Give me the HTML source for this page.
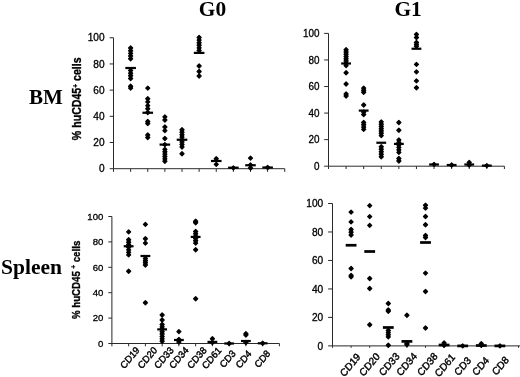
<!DOCTYPE html>
<html><head><meta charset="utf-8"><title>Figure</title>
<style>
html,body{margin:0;padding:0;background:#fff;}
body{width:520px;height:377px;overflow:hidden;font-family:"Liberation Sans",sans-serif;}
svg{display:block;will-change:transform;}
.s{font-family:"Liberation Sans",sans-serif;fill:#000;stroke:#000;stroke-width:0.3;}
.xl{stroke-width:0.45;}
.b{font-family:"Liberation Serif",serif;font-weight:bold;fill:#000;}
</style></head><body>
<svg width="520" height="377" viewBox="0 0 520 377">
<defs><filter id="soft" x="0" y="0" width="520" height="377" filterUnits="userSpaceOnUse"><feGaussianBlur stdDeviation="0.38"/></filter></defs>
<rect width="520" height="377" fill="#fff"/>
<g filter="url(#soft)">
<g stroke="#2a2a2a" stroke-width="1" fill="none">
<path d="M113.5 37.75V168.7"/>
<path d="M109.7 168.7H284.75"/>
<path d="M109.7 37.75H113.5"/>
<path d="M109.7 63.94H113.5"/>
<path d="M109.7 90.13H113.5"/>
<path d="M109.7 116.32H113.5"/>
<path d="M109.7 142.51H113.5"/>
<path d="M113.5 168.7V171.9"/>
<path d="M130.62 168.7V171.9"/>
<path d="M147.75 168.7V171.9"/>
<path d="M164.88 168.7V171.9"/>
<path d="M182 168.7V171.9"/>
<path d="M199.12 168.7V171.9"/>
<path d="M216.25 168.7V171.9"/>
<path d="M233.38 168.7V171.9"/>
<path d="M250.5 168.7V171.9"/>
<path d="M267.62 168.7V171.9"/>
<path d="M284.75 168.7V171.9"/>
</g>
<text transform="translate(104.6 41.37) scale(1.0 1)" text-anchor="end" font-size="10.1" class="s">100</text>
<text transform="translate(104.6 67.56) scale(1.0 1)" text-anchor="end" font-size="10.1" class="s">80</text>
<text transform="translate(104.6 93.75) scale(1.0 1)" text-anchor="end" font-size="10.1" class="s">60</text>
<text transform="translate(104.6 119.94) scale(1.0 1)" text-anchor="end" font-size="10.1" class="s">40</text>
<text transform="translate(104.6 146.13) scale(1.0 1)" text-anchor="end" font-size="10.1" class="s">20</text>
<text transform="translate(104.6 172.32) scale(1.0 1)" text-anchor="end" font-size="10.1" class="s">0</text>
<g fill="#000" stroke="#000" stroke-width="1.3" stroke-linejoin="round">
<path d="M130.62 46L132.62 48L130.62 50L128.62 48Z"/>
<path d="M130.62 48.69L132.62 50.69L130.62 52.69L128.62 50.69Z"/>
<path d="M130.62 51.38L132.62 53.38L130.62 55.38L128.62 53.38Z"/>
<path d="M130.62 54.06L132.62 56.06L130.62 58.06L128.62 56.06Z"/>
<path d="M130.62 56.75L132.62 58.75L130.62 60.75L128.62 58.75Z"/>
<path d="M130.62 68.5L132.62 70.5L130.62 72.5L128.62 70.5Z"/>
<path d="M130.62 71.17L132.62 73.17L130.62 75.17L128.62 73.17Z"/>
<path d="M130.62 73.83L132.62 75.83L130.62 77.83L128.62 75.83Z"/>
<path d="M130.62 76.5L132.62 78.5L130.62 80.5L128.62 78.5Z"/>
<path d="M130.62 84.25L132.62 86.25L130.62 88.25L128.62 86.25Z"/>
<path d="M130.62 86.1L132.62 88.1L130.62 90.1L128.62 88.1Z"/>
<path d="M147.75 86.1L149.75 88.1L147.75 90.1L145.75 88.1Z"/>
<path d="M147.75 96.75L149.75 98.75L147.75 100.75L145.75 98.75Z"/>
<path d="M147.75 99.9L149.75 101.9L147.75 103.9L145.75 101.9Z"/>
<path d="M147.75 103.6L149.75 105.6L147.75 107.6L145.75 105.6Z"/>
<path d="M147.75 106.75L149.75 108.75L147.75 110.75L145.75 108.75Z"/>
<path d="M147.75 110.5L149.75 112.5L147.75 114.5L145.75 112.5Z"/>
<path d="M147.75 119.5L149.75 121.5L147.75 123.5L145.75 121.5Z"/>
<path d="M147.75 121.5L149.75 123.5L147.75 125.5L145.75 123.5Z"/>
<path d="M147.75 133L149.75 135L147.75 137L145.75 135Z"/>
<path d="M147.75 135.5L149.75 137.5L147.75 139.5L145.75 137.5Z"/>
<path d="M164.88 114.9L166.88 116.9L164.88 118.9L162.88 116.9Z"/>
<path d="M164.88 118L166.88 120L164.88 122L162.88 120Z"/>
<path d="M164.88 125L166.88 127L164.88 129L162.88 127Z"/>
<path d="M164.88 128.6L166.88 130.6L164.88 132.6L162.88 130.6Z"/>
<path d="M164.88 136.5L166.88 138.5L164.88 140.5L162.88 138.5Z"/>
<path d="M164.88 142.6L166.88 144.6L164.88 146.6L162.88 144.6Z"/>
<path d="M164.88 147.4L166.88 149.4L164.88 151.4L162.88 149.4Z"/>
<path d="M164.88 149.77L166.88 151.77L164.88 153.77L162.88 151.77Z"/>
<path d="M164.88 152.14L166.88 154.14L164.88 156.14L162.88 154.14Z"/>
<path d="M164.88 154.51L166.88 156.51L164.88 158.51L162.88 156.51Z"/>
<path d="M164.88 156.88L166.88 158.88L164.88 160.88L162.88 158.88Z"/>
<path d="M164.88 159.25L166.88 161.25L164.88 163.25L162.88 161.25Z"/>
<path d="M182 127.75L184 129.75L182 131.75L180 129.75Z"/>
<path d="M182 130.21L184 132.21L182 134.21L180 132.21Z"/>
<path d="M182 132.68L184 134.68L182 136.68L180 134.68Z"/>
<path d="M182 135.14L184 137.14L182 139.14L180 137.14Z"/>
<path d="M182 137.61L184 139.61L182 141.61L180 139.61Z"/>
<path d="M182 140.07L184 142.07L182 144.07L180 142.07Z"/>
<path d="M182 142.54L184 144.54L182 146.54L180 144.54Z"/>
<path d="M182 145L184 147L182 149L180 147Z"/>
<path d="M182 151.75L184 153.75L182 155.75L180 153.75Z"/>
<path d="M199.12 35.5L201.12 37.5L199.12 39.5L197.12 37.5Z"/>
<path d="M199.12 38.1L201.12 40.1L199.12 42.1L197.12 40.1Z"/>
<path d="M199.12 40.7L201.12 42.7L199.12 44.7L197.12 42.7Z"/>
<path d="M199.12 43.3L201.12 45.3L199.12 47.3L197.12 45.3Z"/>
<path d="M199.12 45.9L201.12 47.9L199.12 49.9L197.12 47.9Z"/>
<path d="M199.12 48.5L201.12 50.5L199.12 52.5L197.12 50.5Z"/>
<path d="M199.12 64L201.12 66L199.12 68L197.12 66Z"/>
<path d="M199.12 69.5L201.12 71.5L199.12 73.5L197.12 71.5Z"/>
<path d="M199.12 74L201.12 76L199.12 78L197.12 76Z"/>
<path d="M216.25 156.75L218.25 158.75L216.25 160.75L214.25 158.75Z"/>
<path d="M216.25 162.4L218.25 164.4L216.25 166.4L214.25 164.4Z"/>
<path d="M233.38 165.9L235.38 167.9L233.38 169.9L231.38 167.9Z"/>
<path d="M250.5 156.1L252.5 158.1L250.5 160.1L248.5 158.1Z"/>
<path d="M250.5 163L252.5 165L250.5 167L248.5 165Z"/>
<path d="M250.5 166L252.5 168L250.5 170L248.5 168Z"/>
<path d="M267.62 165.5L269.62 167.5L267.62 169.5L265.62 167.5Z"/>
</g>
<g fill="#000">
<rect x="125.33" y="66.9" width="10.6" height="2.2"/>
<rect x="142.45" y="111.65" width="10.6" height="2.2"/>
<rect x="159.57" y="143.5" width="10.6" height="2.2"/>
<rect x="176.7" y="138.65" width="10.6" height="2.2"/>
<rect x="193.82" y="51.8" width="10.6" height="2.2"/>
<rect x="210.95" y="159.9" width="10.6" height="2.2"/>
<rect x="228.07" y="166.6" width="10.6" height="2.2"/>
<rect x="245.2" y="164.15" width="10.6" height="2.2"/>
<rect x="262.32" y="166.4" width="10.6" height="2.2"/>
</g>
<g stroke="#2a2a2a" stroke-width="1" fill="none">
<path d="M328.5 33.4V166.2"/>
<path d="M324.2 166.2H504.4"/>
<path d="M324.2 33.4H328.5"/>
<path d="M324.2 59.96H328.5"/>
<path d="M324.2 86.52H328.5"/>
<path d="M324.2 113.08H328.5"/>
<path d="M324.2 139.64H328.5"/>
<path d="M328.5 166.2V169"/>
<path d="M346.09 166.2V169"/>
<path d="M363.68 166.2V169"/>
<path d="M381.27 166.2V169"/>
<path d="M398.86 166.2V169"/>
<path d="M416.45 166.2V169"/>
<path d="M434.04 166.2V169"/>
<path d="M451.63 166.2V169"/>
<path d="M469.22 166.2V169"/>
<path d="M486.81 166.2V169"/>
<path d="M504.4 166.2V169"/>
</g>
<text transform="translate(319.6 37) scale(0.985 1)" text-anchor="end" font-size="10.05" class="s">100</text>
<text transform="translate(319.6 63.56) scale(0.985 1)" text-anchor="end" font-size="10.05" class="s">80</text>
<text transform="translate(319.6 90.12) scale(0.985 1)" text-anchor="end" font-size="10.05" class="s">60</text>
<text transform="translate(319.6 116.68) scale(0.985 1)" text-anchor="end" font-size="10.05" class="s">40</text>
<text transform="translate(319.6 143.24) scale(0.985 1)" text-anchor="end" font-size="10.05" class="s">20</text>
<text transform="translate(319.6 169.8) scale(0.985 1)" text-anchor="end" font-size="10.05" class="s">0</text>
<g fill="#000" stroke="#000" stroke-width="1.3" stroke-linejoin="round">
<path d="M346.09 47.75L348.09 49.75L346.09 51.75L344.09 49.75Z"/>
<path d="M346.09 50.01L348.09 52.01L346.09 54.01L344.09 52.01Z"/>
<path d="M346.09 52.28L348.09 54.28L346.09 56.28L344.09 54.28Z"/>
<path d="M346.09 54.54L348.09 56.54L346.09 58.54L344.09 56.54Z"/>
<path d="M346.09 56.81L348.09 58.81L346.09 60.81L344.09 58.81Z"/>
<path d="M346.09 59.07L348.09 61.07L346.09 63.07L344.09 61.07Z"/>
<path d="M346.09 61.34L348.09 63.34L346.09 65.34L344.09 63.34Z"/>
<path d="M346.09 63.6L348.09 65.6L346.09 67.6L344.09 65.6Z"/>
<path d="M346.09 70.75L348.09 72.75L346.09 74.75L344.09 72.75Z"/>
<path d="M346.09 82L348.09 84L346.09 86L344.09 84Z"/>
<path d="M346.09 92L348.09 94L346.09 96L344.09 94Z"/>
<path d="M346.09 94L348.09 96L346.09 98L344.09 96Z"/>
<path d="M363.68 86.1L365.68 88.1L363.68 90.1L361.68 88.1Z"/>
<path d="M363.68 88.17L365.68 90.17L363.68 92.17L361.68 90.17Z"/>
<path d="M363.68 90.25L365.68 92.25L363.68 94.25L361.68 92.25Z"/>
<path d="M363.68 103L365.68 105L363.68 107L361.68 105Z"/>
<path d="M363.68 110L365.68 112L363.68 114L361.68 112Z"/>
<path d="M363.68 112.5L365.68 114.5L363.68 116.5L361.68 114.5Z"/>
<path d="M363.68 120.5L365.68 122.5L363.68 124.5L361.68 122.5Z"/>
<path d="M363.68 122.8L365.68 124.8L363.68 126.8L361.68 124.8Z"/>
<path d="M363.68 125.1L365.68 127.1L363.68 129.1L361.68 127.1Z"/>
<path d="M363.68 127.4L365.68 129.4L363.68 131.4L361.68 129.4Z"/>
<path d="M381.27 119.9L383.27 121.9L381.27 123.9L379.27 121.9Z"/>
<path d="M381.27 122.18L383.27 124.18L381.27 126.18L379.27 124.18Z"/>
<path d="M381.27 124.47L383.27 126.47L381.27 128.47L379.27 126.47Z"/>
<path d="M381.27 126.75L383.27 128.75L381.27 130.75L379.27 128.75Z"/>
<path d="M381.27 129.03L383.27 131.03L381.27 133.03L379.27 131.03Z"/>
<path d="M381.27 131.32L383.27 133.32L381.27 135.32L379.27 133.32Z"/>
<path d="M381.27 133.6L383.27 135.6L381.27 137.6L379.27 135.6Z"/>
<path d="M381.27 144.75L383.27 146.75L381.27 148.75L379.27 146.75Z"/>
<path d="M381.27 147.25L383.27 149.25L381.27 151.25L379.27 149.25Z"/>
<path d="M381.27 149.75L383.27 151.75L381.27 153.75L379.27 151.75Z"/>
<path d="M381.27 152.25L383.27 154.25L381.27 156.25L379.27 154.25Z"/>
<path d="M381.27 154.75L383.27 156.75L381.27 158.75L379.27 156.75Z"/>
<path d="M398.86 120.5L400.86 122.5L398.86 124.5L396.86 122.5Z"/>
<path d="M398.86 128.25L400.86 130.25L398.86 132.25L396.86 130.25Z"/>
<path d="M398.86 137.9L400.86 139.9L398.86 141.9L396.86 139.9Z"/>
<path d="M398.86 140.4L400.86 142.4L398.86 144.4L396.86 142.4Z"/>
<path d="M398.86 142.9L400.86 144.9L398.86 146.9L396.86 144.9Z"/>
<path d="M398.86 145.4L400.86 147.4L398.86 149.4L396.86 147.4Z"/>
<path d="M398.86 147.9L400.86 149.9L398.86 151.9L396.86 149.9Z"/>
<path d="M398.86 150.4L400.86 152.4L398.86 154.4L396.86 152.4Z"/>
<path d="M398.86 156.5L400.86 158.5L398.86 160.5L396.86 158.5Z"/>
<path d="M398.86 159L400.86 161L398.86 163L396.86 161Z"/>
<path d="M416.45 32.4L418.45 34.4L416.45 36.4L414.45 34.4Z"/>
<path d="M416.45 35.5L418.45 37.5L416.45 39.5L414.45 37.5Z"/>
<path d="M416.45 40.5L418.45 42.5L416.45 44.5L414.45 42.5Z"/>
<path d="M416.45 42.38L418.45 44.38L416.45 46.38L414.45 44.38Z"/>
<path d="M416.45 44.25L418.45 46.25L416.45 48.25L414.45 46.25Z"/>
<path d="M416.45 62.4L418.45 64.4L416.45 66.4L414.45 64.4Z"/>
<path d="M416.45 69.9L418.45 71.9L416.45 73.9L414.45 71.9Z"/>
<path d="M416.45 78.9L418.45 80.9L416.45 82.9L414.45 80.9Z"/>
<path d="M416.45 85.75L418.45 87.75L416.45 89.75L414.45 87.75Z"/>
<path d="M434.04 162.4L436.04 164.4L434.04 166.4L432.04 164.4Z"/>
<path d="M451.63 163L453.63 165L451.63 167L449.63 165Z"/>
<path d="M469.22 160.5L471.22 162.5L469.22 164.5L467.22 162.5Z"/>
<path d="M469.22 163L471.22 165L469.22 167L467.22 165Z"/>
<path d="M486.81 163.6L488.81 165.6L486.81 167.6L484.81 165.6Z"/>
</g>
<g fill="#000">
<rect x="341.19" y="62.4" width="9.8" height="2.2"/>
<rect x="358.78" y="109.5" width="9.8" height="2.2"/>
<rect x="376.37" y="141.65" width="9.8" height="2.2"/>
<rect x="393.96" y="142.8" width="9.8" height="2.2"/>
<rect x="411.55" y="47.65" width="9.8" height="2.2"/>
<rect x="429.14" y="163.4" width="9.8" height="2.2"/>
<rect x="446.73" y="163.9" width="9.8" height="2.2"/>
<rect x="464.32" y="163.4" width="9.8" height="2.2"/>
<rect x="481.91" y="164.5" width="9.8" height="2.2"/>
</g>
<g stroke="#2a2a2a" stroke-width="1" fill="none">
<path d="M111.9 216.5V343.5"/>
<path d="M108.3 343.5H279.4"/>
<path d="M108.3 216.5H111.9"/>
<path d="M108.3 241.9H111.9"/>
<path d="M108.3 267.3H111.9"/>
<path d="M108.3 292.7H111.9"/>
<path d="M108.3 318.1H111.9"/>
<path d="M111.9 343.5V346.3"/>
<path d="M128.65 343.5V346.3"/>
<path d="M145.4 343.5V346.3"/>
<path d="M162.15 343.5V346.3"/>
<path d="M178.9 343.5V346.3"/>
<path d="M195.65 343.5V346.3"/>
<path d="M212.4 343.5V346.3"/>
<path d="M229.15 343.5V346.3"/>
<path d="M245.9 343.5V346.3"/>
<path d="M262.65 343.5V346.3"/>
<path d="M279.4 343.5V346.3"/>
</g>
<text transform="translate(103.3 219.83) scale(1.03 1)" text-anchor="end" font-size="9.3" class="s">100</text>
<text transform="translate(103.3 245.23) scale(1.03 1)" text-anchor="end" font-size="9.3" class="s">80</text>
<text transform="translate(103.3 270.63) scale(1.03 1)" text-anchor="end" font-size="9.3" class="s">60</text>
<text transform="translate(103.3 296.03) scale(1.03 1)" text-anchor="end" font-size="9.3" class="s">40</text>
<text transform="translate(103.3 321.43) scale(1.03 1)" text-anchor="end" font-size="9.3" class="s">20</text>
<text transform="translate(103.3 346.83) scale(1.03 1)" text-anchor="end" font-size="9.3" class="s">0</text>
<g fill="#000" stroke="#000" stroke-width="1.3" stroke-linejoin="round">
<path d="M128.65 229.9L130.65 231.9L128.65 233.9L126.65 231.9Z"/>
<path d="M128.65 237.75L130.65 239.75L128.65 241.75L126.65 239.75Z"/>
<path d="M128.65 240.28L130.65 242.28L128.65 244.28L126.65 242.28Z"/>
<path d="M128.65 242.8L130.65 244.8L128.65 246.8L126.65 244.8Z"/>
<path d="M128.65 245.32L130.65 247.32L128.65 249.32L126.65 247.32Z"/>
<path d="M128.65 247.85L130.65 249.85L128.65 251.85L126.65 249.85Z"/>
<path d="M128.65 250.38L130.65 252.38L128.65 254.38L126.65 252.38Z"/>
<path d="M128.65 252.9L130.65 254.9L128.65 256.9L126.65 254.9Z"/>
<path d="M128.65 269.25L130.65 271.25L128.65 273.25L126.65 271.25Z"/>
<path d="M145.4 222.4L147.4 224.4L145.4 226.4L143.4 224.4Z"/>
<path d="M145.4 236.75L147.4 238.75L145.4 240.75L143.4 238.75Z"/>
<path d="M145.4 241.1L147.4 243.1L145.4 245.1L143.4 243.1Z"/>
<path d="M145.4 256.5L147.4 258.5L145.4 260.5L143.4 258.5Z"/>
<path d="M145.4 258.67L147.4 260.67L145.4 262.67L143.4 260.67Z"/>
<path d="M145.4 260.83L147.4 262.83L145.4 264.83L143.4 262.83Z"/>
<path d="M145.4 263L147.4 265L145.4 267L143.4 265Z"/>
<path d="M145.4 300.75L147.4 302.75L145.4 304.75L143.4 302.75Z"/>
<path d="M162.15 313L164.15 315L162.15 317L160.15 315Z"/>
<path d="M162.15 318L164.15 320L162.15 322L160.15 320Z"/>
<path d="M162.15 322.5L164.15 324.5L162.15 326.5L160.15 324.5Z"/>
<path d="M162.15 324.89L164.15 326.89L162.15 328.89L160.15 326.89Z"/>
<path d="M162.15 327.29L164.15 329.29L162.15 331.29L160.15 329.29Z"/>
<path d="M162.15 329.68L164.15 331.68L162.15 333.68L160.15 331.68Z"/>
<path d="M162.15 332.07L164.15 334.07L162.15 336.07L160.15 334.07Z"/>
<path d="M162.15 334.46L164.15 336.46L162.15 338.46L160.15 336.46Z"/>
<path d="M162.15 336.86L164.15 338.86L162.15 340.86L160.15 338.86Z"/>
<path d="M162.15 339.25L164.15 341.25L162.15 343.25L160.15 341.25Z"/>
<path d="M178.9 329.6L180.9 331.6L178.9 333.6L176.9 331.6Z"/>
<path d="M178.9 337.5L180.9 339.5L178.9 341.5L176.9 339.5Z"/>
<path d="M178.9 340L180.9 342L178.9 344L176.9 342Z"/>
<path d="M195.65 219.25L197.65 221.25L195.65 223.25L193.65 221.25Z"/>
<path d="M195.65 220.75L197.65 222.75L195.65 224.75L193.65 222.75Z"/>
<path d="M195.65 229.5L197.65 231.5L195.65 233.5L193.65 231.5Z"/>
<path d="M195.65 231.82L197.65 233.82L195.65 235.82L193.65 233.82Z"/>
<path d="M195.65 234.14L197.65 236.14L195.65 238.14L193.65 236.14Z"/>
<path d="M195.65 236.46L197.65 238.46L195.65 240.46L193.65 238.46Z"/>
<path d="M195.65 238.78L197.65 240.78L195.65 242.78L193.65 240.78Z"/>
<path d="M195.65 241.1L197.65 243.1L195.65 245.1L193.65 243.1Z"/>
<path d="M195.65 247.75L197.65 249.75L195.65 251.75L193.65 249.75Z"/>
<path d="M195.65 296.75L197.65 298.75L195.65 300.75L193.65 298.75Z"/>
<path d="M212.4 336.75L214.4 338.75L212.4 340.75L210.4 338.75Z"/>
<path d="M212.4 340.5L214.4 342.5L212.4 344.5L210.4 342.5Z"/>
<path d="M229.15 341.5L231.15 343.5L229.15 345.5L227.15 343.5Z"/>
<path d="M245.9 331.75L247.9 333.75L245.9 335.75L243.9 333.75Z"/>
<path d="M245.9 333L247.9 335L245.9 337L243.9 335Z"/>
<path d="M245.9 340.5L247.9 342.5L245.9 344.5L243.9 342.5Z"/>
<path d="M262.65 341.3L264.65 343.3L262.65 345.3L260.65 343.3Z"/>
</g>
<g fill="#000">
<rect x="123.75" y="245.15" width="9.8" height="2.2"/>
<rect x="140.5" y="254.9" width="9.8" height="2.2"/>
<rect x="157.25" y="328.3" width="9.8" height="2.2"/>
<rect x="174" y="338.9" width="9.8" height="2.2"/>
<rect x="190.75" y="235.8" width="9.8" height="2.2"/>
<rect x="207.5" y="340.8" width="9.8" height="2.2"/>
<rect x="224.25" y="342.4" width="9.8" height="2.2"/>
<rect x="241" y="339.9" width="9.8" height="2.2"/>
<rect x="257.75" y="342.2" width="9.8" height="2.2"/>
</g>
<text transform="translate(132.1 360) scale(0.92 1) rotate(-47.5)" text-anchor="middle" font-size="10.0" class="s xl">CD19</text>
<text transform="translate(149.8 360) scale(0.92 1) rotate(-47.5)" text-anchor="middle" font-size="10.0" class="s xl">CD20</text>
<text transform="translate(166.15 360) scale(0.92 1) rotate(-47.5)" text-anchor="middle" font-size="10.0" class="s xl">CD33</text>
<text transform="translate(181.15 360) scale(0.92 1) rotate(-47.5)" text-anchor="middle" font-size="10.0" class="s xl">CD34</text>
<text transform="translate(199.3 360) scale(0.92 1) rotate(-47.5)" text-anchor="middle" font-size="10.0" class="s xl">CD38</text>
<text transform="translate(214 360.3) scale(0.92 1) rotate(-47.5)" text-anchor="middle" font-size="10.0" class="s xl">CD61</text>
<text transform="translate(229.9 361.25) scale(0.92 1) rotate(-47.5)" text-anchor="middle" font-size="10.0" class="s xl">CD3</text>
<text transform="translate(245.85 361.6) scale(0.92 1) rotate(-47.5)" text-anchor="middle" font-size="10.0" class="s xl">CD4</text>
<text transform="translate(264.6 361.25) scale(0.92 1) rotate(-47.5)" text-anchor="middle" font-size="10.0" class="s xl">CD8</text>
<g stroke="#2a2a2a" stroke-width="1" fill="none">
<path d="M332.5 203.5V345.9"/>
<path d="M328.1 345.9H520"/>
<path d="M328.1 203.5H332.5"/>
<path d="M328.1 231.98H332.5"/>
<path d="M328.1 260.46H332.5"/>
<path d="M328.1 288.94H332.5"/>
<path d="M328.1 317.42H332.5"/>
<path d="M332.5 345.9V347.8"/>
<path d="M351.1 345.9V347.8"/>
<path d="M369.7 345.9V347.8"/>
<path d="M388.3 345.9V347.8"/>
<path d="M406.9 345.9V347.8"/>
<path d="M425.5 345.9V347.8"/>
<path d="M444.1 345.9V347.8"/>
<path d="M462.7 345.9V347.8"/>
<path d="M481.3 345.9V347.8"/>
<path d="M499.9 345.9V347.8"/>
<path d="M518.5 345.9V347.8"/>
</g>
<text transform="translate(323.2 207.1) scale(1.01 1)" text-anchor="end" font-size="10.05" class="s">100</text>
<text transform="translate(323.2 235.58) scale(1.01 1)" text-anchor="end" font-size="10.05" class="s">80</text>
<text transform="translate(323.2 264.06) scale(1.01 1)" text-anchor="end" font-size="10.05" class="s">60</text>
<text transform="translate(323.2 292.54) scale(1.01 1)" text-anchor="end" font-size="10.05" class="s">40</text>
<text transform="translate(323.2 321.02) scale(1.01 1)" text-anchor="end" font-size="10.05" class="s">20</text>
<text transform="translate(323.2 349.5) scale(1.01 1)" text-anchor="end" font-size="10.05" class="s">0</text>
<g fill="#000" stroke="#000" stroke-width="1.3" stroke-linejoin="round">
<path d="M351.1 210.1L353.1 212.1L351.1 214.1L349.1 212.1Z"/>
<path d="M351.1 219.9L353.1 221.9L351.1 223.9L349.1 221.9Z"/>
<path d="M351.1 227.5L353.1 229.5L351.1 231.5L349.1 229.5Z"/>
<path d="M351.1 230.25L353.1 232.25L351.1 234.25L349.1 232.25Z"/>
<path d="M351.1 233L353.1 235L351.1 237L349.1 235Z"/>
<path d="M351.1 266.5L353.1 268.5L351.1 270.5L349.1 268.5Z"/>
<path d="M351.1 273.5L353.1 275.5L351.1 277.5L349.1 275.5Z"/>
<path d="M351.1 274.9L353.1 276.9L351.1 278.9L349.1 276.9Z"/>
<path d="M369.7 203.6L371.7 205.6L369.7 207.6L367.7 205.6Z"/>
<path d="M369.7 214.6L371.7 216.6L369.7 218.6L367.7 216.6Z"/>
<path d="M369.7 223.4L371.7 225.4L369.7 227.4L367.7 225.4Z"/>
<path d="M369.7 276.5L371.7 278.5L369.7 280.5L367.7 278.5Z"/>
<path d="M369.7 286.5L371.7 288.5L369.7 290.5L367.7 288.5Z"/>
<path d="M369.7 322.75L371.7 324.75L369.7 326.75L367.7 324.75Z"/>
<path d="M388.3 301.5L390.3 303.5L388.3 305.5L386.3 303.5Z"/>
<path d="M388.3 308L390.3 310L388.3 312L386.3 310Z"/>
<path d="M388.3 309.25L390.3 311.25L388.3 313.25L386.3 311.25Z"/>
<path d="M388.3 328.5L390.3 330.5L388.3 332.5L386.3 330.5Z"/>
<path d="M388.3 330.63L390.3 332.63L388.3 334.63L386.3 332.63Z"/>
<path d="M388.3 332.77L390.3 334.77L388.3 336.77L386.3 334.77Z"/>
<path d="M388.3 334.9L390.3 336.9L388.3 338.9L386.3 336.9Z"/>
<path d="M388.3 343.25L390.3 345.25L388.3 347.25L386.3 345.25Z"/>
<path d="M406.9 313.25L408.9 315.25L406.9 317.25L404.9 315.25Z"/>
<path d="M406.9 341.5L408.9 343.5L406.9 345.5L404.9 343.5Z"/>
<path d="M406.9 342.5L408.9 344.5L406.9 346.5L404.9 344.5Z"/>
<path d="M425.5 203.25L427.5 205.25L425.5 207.25L423.5 205.25Z"/>
<path d="M425.5 206.1L427.5 208.1L425.5 210.1L423.5 208.1Z"/>
<path d="M425.5 214.5L427.5 216.5L425.5 218.5L423.5 216.5Z"/>
<path d="M425.5 222.75L427.5 224.75L425.5 226.75L423.5 224.75Z"/>
<path d="M425.5 233.5L427.5 235.5L425.5 237.5L423.5 235.5Z"/>
<path d="M425.5 235.5L427.5 237.5L425.5 239.5L423.5 237.5Z"/>
<path d="M425.5 271.1L427.5 273.1L425.5 275.1L423.5 273.1Z"/>
<path d="M425.5 289.5L427.5 291.5L425.5 293.5L423.5 291.5Z"/>
<path d="M425.5 326L427.5 328L425.5 330L423.5 328Z"/>
<path d="M444.1 341L446.1 343L444.1 345L442.1 343Z"/>
<path d="M444.1 343.25L446.1 345.25L444.1 347.25L442.1 345.25Z"/>
<path d="M462.7 343.9L464.7 345.9L462.7 347.9L460.7 345.9Z"/>
<path d="M481.3 341.6L483.3 343.6L481.3 345.6L479.3 343.6Z"/>
<path d="M481.3 343.4L483.3 345.4L481.3 347.4L479.3 345.4Z"/>
<path d="M499.9 343.9L501.9 345.9L499.9 347.9L497.9 345.9Z"/>
</g>
<g fill="#000">
<rect x="345.7" y="243.9" width="10.8" height="2.7"/>
<rect x="364.3" y="250.15" width="10.8" height="2.7"/>
<rect x="382.9" y="326.15" width="10.8" height="2.7"/>
<rect x="401.5" y="340.05" width="10.8" height="2.7"/>
<rect x="420.1" y="241.15" width="10.8" height="2.7"/>
<rect x="438.7" y="343.65" width="10.8" height="2.7"/>
<rect x="457.3" y="344.55" width="10.8" height="2.7"/>
<rect x="475.9" y="344.15" width="10.8" height="2.7"/>
<rect x="494.5" y="344.55" width="10.8" height="2.7"/>
</g>
<text transform="translate(352.6 367.4) scale(0.92 1) rotate(-47.5)" text-anchor="middle" font-size="10.6" class="s xl">CD19</text>
<text transform="translate(372 367) scale(0.92 1) rotate(-47.5)" text-anchor="middle" font-size="10.6" class="s xl">CD20</text>
<text transform="translate(391.7 366.75) scale(0.92 1) rotate(-47.5)" text-anchor="middle" font-size="10.6" class="s xl">CD33</text>
<text transform="translate(409.2 366.75) scale(0.92 1) rotate(-47.5)" text-anchor="middle" font-size="10.6" class="s xl">CD34</text>
<text transform="translate(429.8 366.75) scale(0.92 1) rotate(-47.5)" text-anchor="middle" font-size="10.6" class="s xl">CD38</text>
<text transform="translate(447.3 367.7) scale(0.92 1) rotate(-47.5)" text-anchor="middle" font-size="10.6" class="s xl">CD61</text>
<text transform="translate(465.1 368.6) scale(0.92 1) rotate(-47.5)" text-anchor="middle" font-size="10.6" class="s xl">CD3</text>
<text transform="translate(483.1 368.6) scale(0.92 1) rotate(-47.5)" text-anchor="middle" font-size="10.6" class="s xl">CD4</text>
<text transform="translate(502.9 368.3) scale(0.92 1) rotate(-47.5)" text-anchor="middle" font-size="10.6" class="s xl">CD8</text>
<text transform="translate(81 98.8) scale(1.13 1) rotate(-90)" text-anchor="middle" font-size="10.6" font-weight="bold" class="s">% huCD45<tspan dy="-2.86" font-size="6.57">+</tspan><tspan dy="2.86"> cells</tspan></text>
<text transform="translate(79.7 279.9) scale(1.07 1) rotate(-90)" text-anchor="middle" font-size="9.7" font-weight="bold" class="s">% huCD45 <tspan dy="-3.3" font-size="6.01">+</tspan><tspan dy="3.3"> cells</tspan></text>
<text x="198.8" y="15.8" font-size="21.4" class="b">G0</text>
<text x="394.4" y="15.8" font-size="21.4" class="b">G1</text>
<text x="29" y="104.2" font-size="21" class="b">BM</text>
<text x="1" y="274.3" font-size="21.5" class="b">Spleen</text>
</g>
</svg>
</body></html>
